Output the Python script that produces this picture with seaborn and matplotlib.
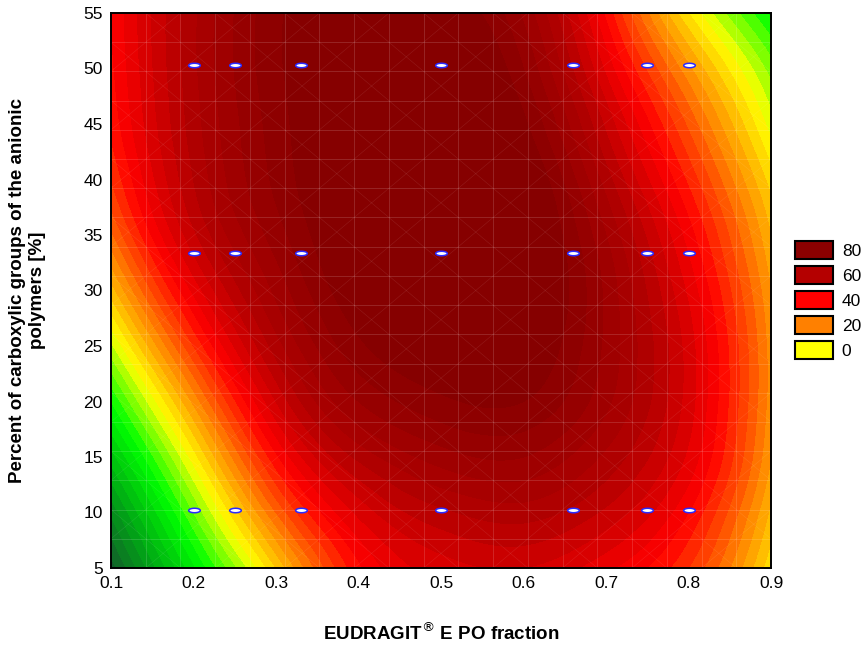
import numpy as np
import pandas as pd
import matplotlib
matplotlib.use("Agg")
import matplotlib.pyplot as plt
import matplotlib.tri as mtri
from matplotlib.colors import LinearSegmentedColormap
from matplotlib.patches import Patch
from matplotlib.path import Path
import seaborn as sns

# Response surface sampled on a regular grid (rows: carboxyl %, cols: EPO fraction)
epo_fraction = [0.1, 0.2, 0.3, 0.4, 0.5, 0.6, 0.7, 0.8, 0.9]
carboxyl_pct = [5, 10, 15, 20, 25, 30, 35, 40, 45, 50, 55]
response = [
    [-58, -25,  8, 39, 50, 52, 45, 32,   5],
    [-47, -12, 24, 49, 59, 62, 55, 40,  11],
    [-34,   2, 39, 61, 70, 72, 63, 47,  16],
    [-20,  17, 52, 72, 79, 80, 69, 50,  18],
    [ -5,  32, 62, 79, 86, 85, 71, 50,  18],
    [ 10,  45, 69, 84, 91, 88, 71, 47,  16],
    [ 23,  55, 74, 87, 93, 88, 68, 42,  12],
    [ 32,  60, 77, 88, 93, 86, 62, 35,   6],
    [ 37,  62, 78, 88, 91, 81, 55, 27,  -2],
    [ 39,  63, 79, 87, 88, 76, 47, 17, -10],
    [ 40,  63, 79, 86, 84, 71, 39,  4, -21],
]

# Experimental design points
design_x = [0.2, 0.25, 0.33, 0.5, 0.66, 0.75, 0.8]
design_y = [10.25, 33.4, 50.35]

legend_levels = [80, 60, 40, 20, 0]
legend_colors = ["#8b0000", "#b40000", "#ff0000", "#ff8000", "#ffff00"]

sns.set_style("white")
plt.rcParams["font.family"] = ["Liberation Sans", "DejaVu Sans"]
plt.rcParams.update({"text.color": "black", "axes.labelcolor": "black",
                     "xtick.color": "black", "ytick.color": "black"})

fig = plt.figure(figsize=(8.66, 6.49), dpi=100)
ax = fig.add_axes([111 / 866, 1 - 568 / 649, 660 / 866, 555 / 649])

# smooth the gridded surface with a cubic refinement (in normalized coordinates)
X, Y = np.meshgrid(epo_fraction, carboxyl_pct)
Z = np.asarray(response, dtype=float)
u = (X.ravel() - 0.1) / 0.8
v = (Y.ravel() - 5) / 50
tri = mtri.Triangulation(u, v)
refiner = mtri.UniformTriRefiner(tri)
tri_r, z_r = refiner.refine_field(Z.ravel(), subdiv=4)
tri_xy = mtri.Triangulation(tri_r.x * 0.8 + 0.1, tri_r.y * 50 + 5, tri_r.triangles)

anchors = [
    (-60, (20, 85, 45)),
    (-40, (0, 170, 20)),
    (-20, (0, 255, 0)),
    (0, (255, 255, 0)),
    (20, (255, 128, 0)),
    (40, (255, 0, 0)),
    (60, (180, 0, 0)),
    (80, (139, 0, 0)),
]
lo, hi = -60, 80
cmap = LinearSegmentedColormap.from_list(
    "surface",
    [((val - lo) / (hi - lo), tuple(c / 255 for c in rgb)) for val, rgb in anchors],
)
cmap.set_over("#860000")
cmap.set_under("#14552d")

levels = np.arange(-64, 81, 4)
ax.tricontourf(tri_xy, z_r, levels=levels, cmap=cmap, vmin=lo, vmax=hi, extend="both")

# faint surface mesh: grid lines plus cell diagonals
mesh_x = np.linspace(0.1, 0.9, 20)
mesh_y = np.linspace(5, 55, 20)
for gx in mesh_x:
    ax.axvline(gx, color="white", alpha=0.17, lw=0.6, zorder=2)
for gy in mesh_y:
    ax.axhline(gy, color="white", alpha=0.17, lw=0.6, zorder=2)
dx, dy = mesh_x[1] - mesh_x[0], mesh_y[1] - mesh_y[0]
for k in range(-19, 20, 2):
    ax.plot([0.1 + k * dx, 0.1 + (k + 19) * dx], [5, 55], color="white",
            alpha=0.09, lw=0.5, zorder=2)
    ax.plot([0.1 + k * dx, 0.1 + (k + 19) * dx], [55, 5], color="white",
            alpha=0.09, lw=0.5, zorder=2)

# design points as small horizontal ellipses
t = np.linspace(0, 2 * np.pi, 40)
ellipse = Path(np.column_stack([2.6 * np.cos(t), np.sin(t)]), closed=True)
pts = pd.DataFrame([(x, y) for y in design_y for x in design_x], columns=["x", "y"])
sns.scatterplot(data=pts, x="x", y="y", ax=ax, marker=ellipse, s=70,
                color="white", edgecolor="#2a2aff", linewidth=1.1, zorder=5, legend=False)

ax.set_xlim(0.1, 0.9)
ax.set_ylim(5, 55)
ax.set_xticks(np.arange(0.1, 0.91, 0.1))
ax.set_xticklabels([f"{v:.1f}" for v in np.arange(0.1, 0.91, 0.1)])
ax.set_yticks(np.arange(5, 56, 5))
ax.tick_params(direction="in", length=5, width=1.3, labelsize=12.5, color="black",
               labelcolor="black", top=True, right=True, pad=6)
for s in ax.spines.values():
    s.set_visible(True)
    s.set_color("black")
    s.set_linewidth(1.4)

ax.set_xlabel(r"EUDRAGIT$^{\circledR}$ E PO fraction", fontsize=13.5, fontweight="bold", labelpad=22)
ax.set_ylabel("Percent of carboxylic groups of the anionic\npolymers [%]", fontsize=13.5,
              fontweight="bold", labelpad=27, linespacing=1.2)

handles = [Patch(facecolor=c, edgecolor="black", linewidth=1.5) for c in legend_colors]
fig.legend(handles, [str(l) for l in legend_levels], loc="center left",
           bbox_to_anchor=(795 / 866, 1 - 300 / 649), frameon=False, fontsize=12.5,
           handlelength=2.2, handleheight=1.2, labelspacing=0.42, handletextpad=0.5,
           borderaxespad=0, borderpad=0)

fig.savefig("out.png", dpi=100)
